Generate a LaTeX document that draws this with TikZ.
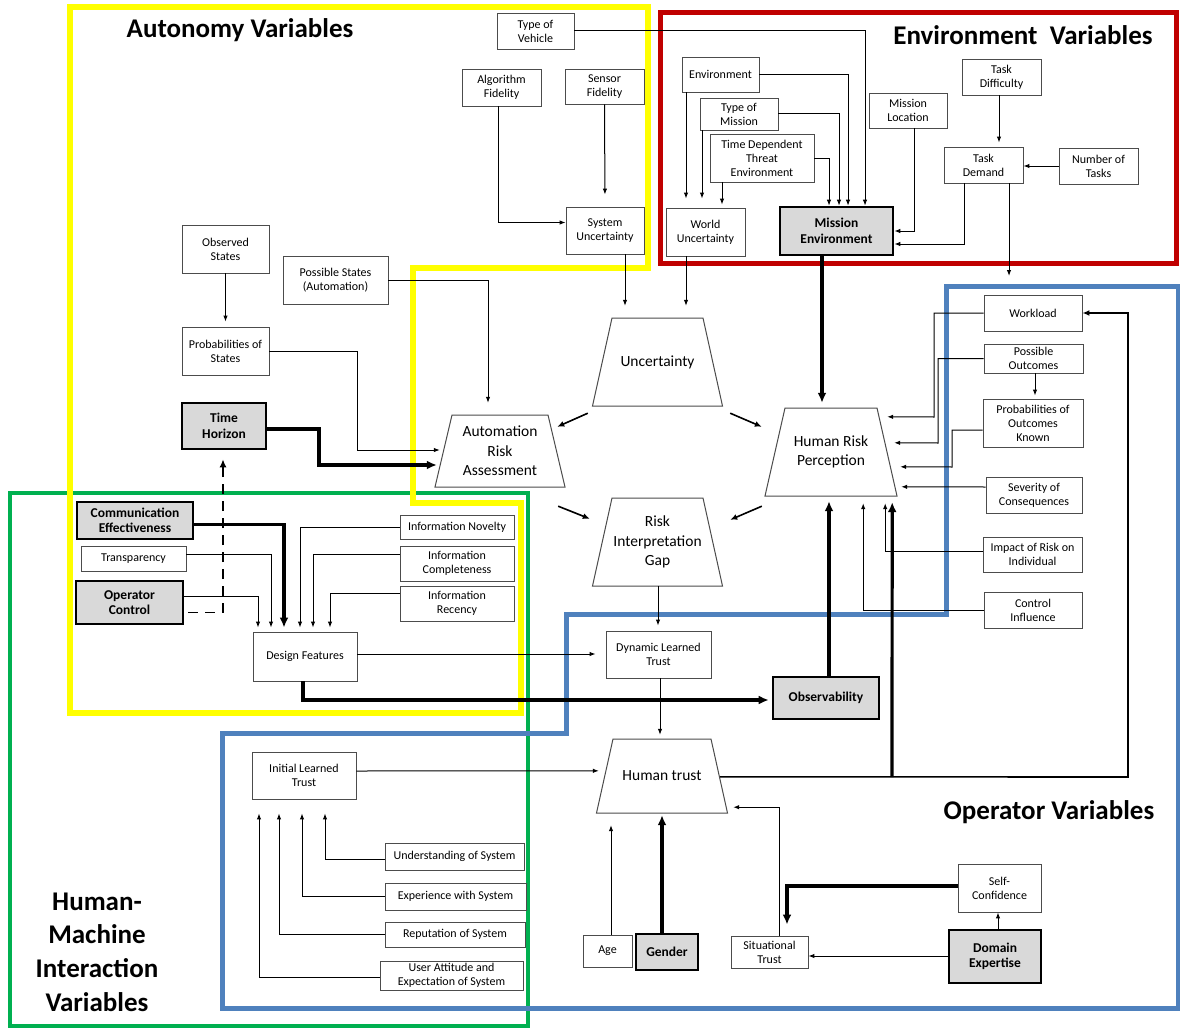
\documentclass[tikz,border=0pt]{standalone}
\usepackage{fontspec}
\setmainfont{Carlito}
\usetikzlibrary{arrows.meta,calc}
\definecolor{boxgray}{RGB}{217,217,217}
\definecolor{fyellow}{RGB}{255,255,0}
\definecolor{fred}{RGB}{192,0,0}
\definecolor{fblue}{RGB}{79,129,189}
\definecolor{fgreen}{RGB}{0,176,80}
\pgfdeclarelayer{bg}
\pgfsetlayers{bg,main}
\tikzset{
 box/.style={draw=black!70, line width=0.9pt, fill=white, align=center, inner sep=1pt, font=\fontsize{12}{14}\selectfont},
 gbox/.style={box, draw=black, fill=boxgray, line width=2.6pt, font=\bfseries\fontsize{13.5}{15.5}\selectfont},
 arr/.style={line width=1pt, -{Latex[length=6pt,width=4.5pt]}},
 marr/.style={line width=1.6pt, -{Latex[length=7pt,width=6pt]}},
 tarr/.style={line width=3.2pt, -{Latex[length=10pt,width=9pt]}},
 trap/.style={draw=black!70, line width=1pt, fill=white},
 traptext/.style={inner sep=0pt, align=center, font=\fontsize{15.5}{19.5}\selectfont},
 title/.style={font=\bfseries\fontsize{27}{33.7}\selectfont, align=center},
 frame/.style={line width=5pt, line join=miter},
}
\newcommand\bx[7][]{\node[box,#1,minimum width={(#5-#3)*1pt},minimum height={(#6-#4)*1pt}] (#2) at ({(#3+#5)/2},{(#4+#6)/2}) {#7};}
\newcommand\trapz[7]{%
 \draw[trap] ({#2-#4/2},{#3-#5/2}) -- ({#2+#4/2},{#3-#5/2}) -- ({#2+#4/2+#6},{#3+#5/2}) -- ({#2-#4/2-#6},{#3+#5/2}) -- cycle;
 \node[traptext, minimum width={#4*1pt}, minimum height={#5*1pt}] (#1) at (#2,#3) {#7};}
\begin{document}
\begin{tikzpicture}[x=1pt,y=-1pt]
\useasboundingbox (0,0) rectangle (1180,1030);

% ---------- boxes ----------
\bx{tov}{497}{13}{574}{49}{Type of\\Vehicle}
\bx{algf}{462}{69}{541}{106}{Algorithm\\Fidelity}
\bx{senf}{565}{69}{644}{104}{Sensor\\Fidelity}
\bx{sysu}{566}{207}{644}{254}{System\\Uncertainty}
\bx{env}{682}{57}{759}{92}{Environment}
\bx{tom}{700}{98}{778}{130}{Type of\\Mission}
\bx{tdte}{710}{134}{814}{182}{Time Dependent\\Threat\\Environment}
\bx{wu}{666}{208}{745}{256}{World\\Uncertainty}
\bx[gbox]{me}{780}{207}{893}{255}{Mission\\Environment}
\bx{ml}{869}{93}{947}{128}{Mission\\Location}
\bx{tdiff}{962}{59}{1041}{95}{Task\\Difficulty}
\bx{tdem}{944}{147}{1023}{183}{Task\\Demand}
\bx{ntask}{1059}{148}{1138}{184}{Number of\\Tasks}
\bx{obs}{182}{225}{269}{273}{Observed\\States}
\bx{pst}{283}{256}{388}{304}{Possible States\\(Automation)}
\bx{pos}{182}{327}{269}{375}{Probabilities of\\States}
\bx[gbox]{th}{182}{403}{266}{449}{Time\\Horizon}
\bx[gbox]{ce}{77}{502}{193}{539}{Communication\\Effectiveness}
\bx{tr}{81}{546}{186}{571}{Transparency}
\bx[gbox]{oc}{76}{581}{183}{624}{Operator\\Control}
\bx{df}{253}{632}{357}{681}{Design Features}
\bx{inov}{400}{515}{514}{539}{Information Novelty}
\bx{icomp}{400}{546}{514}{581}{Information\\Completeness}
\bx{irec}{400}{586}{514}{621}{Information\\Recency}
\bx{dlt}{606}{631}{711}{678}{Dynamic Learned\\Trust}
\bx[gbox]{observ}{773}{677}{879}{719}{Observability}
\bx{wl}{984}{295}{1082}{331}{Workload}
\bx{po}{984}{344}{1083}{373}{Possible\\Outcomes}
\bx{pook}{983}{399}{1083}{447}{Probabilities of\\Outcomes\\Known}
\bx{sev}{986}{477}{1082}{513}{Severity of\\Consequences}
\bx{imp}{983}{537}{1082}{572}{Impact of Risk on\\Individual}
\bx{ci}{984}{592}{1082}{628}{Control\\Influence}
\bx{ilt}{252}{752}{356}{799}{Initial Learned\\Trust}
\bx{uos}{385}{843}{524}{870}{Understanding of System}
\bx{ews}{385}{883}{526}{910}{Experience with System}
\bx{ros}{385}{922}{525}{947}{Reputation of System}
\bx{ua}{380}{961}{523}{990}{User Attitude and\\Expectation of System}
\bx{age}{583}{935}{632}{967}{Age}
\bx[gbox]{gen}{636}{934}{698}{970}{Gender}
\bx{st}{731}{936}{808}{968}{Situational\\Trust}
\bx{sc}{958}{864}{1041}{912}{Self-\\Confidence}
\bx[gbox]{de}{949}{930}{1041}{983}{Domain\\Expertise}

% ---------- trapezoids ----------
\trapz{unc}{657.5}{362}{91}{88}{19.5}{Uncertainty}
\trapz{ara}{500}{451}{96}{72}{17}{Automation\\Risk\\Assessment}
\trapz{rig}{657.5}{542}{91}{88}{19.5}{Risk\\Interpretation\\Gap}
\trapz{hrp}{831}{452}{92}{88}{20}{Human Risk\\Perception}
\trapz{ht}{662}{776}{98}{74}{16.5}{Human trust}

% ---------- titles ----------
\node[title] (tAut) at (240,30) {Autonomy Variables};
\node[title] (tEnv) at (1023,35) {Environment\ \ Variables};
\node[title] (tOp) at (1049,812) {Operator Variables};
\node[title] (tHmi) at (97,952) {Human-\\Machine\\Interaction\\Variables};

% ---------- connectors ----------
% environment
\draw[arr] (tov.east) -| (me.north -| 865,0);
\draw[arr] (env.east) -| (me.north -| 848,0);
\draw[arr] (tom.east) -| (me.north -| 839,0);
\draw[arr] (tdte.east) -| (me.north -| 829,0);
\draw[arr,shorten >=9pt] (env.south -| 686,0) -- (wu.north -| 686,0);
\draw[arr,shorten >=9pt] (tom.south -| 702,0) -- (wu.north -| 702,0);
\draw[arr,shorten >=3pt] (tdte.south -| 722,0) -- (wu.north -| 722,0);
\draw[arr,shorten >=12pt] (senf.south) -- (sysu.north);
\draw[arr] (algf.south -| 498,0) |- ($(sysu.west)+(0,-8)$);
\draw[arr,shorten >=12pt] (sysu.south -| 625,0) -- (unc.north -| 625,0);
\draw[arr,shorten >=12pt] (wu.south -| 686,0) -- (unc.north -| 686,0);
\draw[arr] (ml.south -| 914,0) |- (me.east);
\draw[arr] (tdem.south -| 964,0) |- ($(me.east)+(0,13)$);
\draw[arr,shorten >=4pt] (tdiff.south -| 999,0) -- (tdem.north -| 999,0);
\draw[arr] (ntask.west) -- (tdem.east |- ntask.west);
\coordinate (tdend) at (1009,276);
\draw[arr] (tdem.south -| 1009,0) -- (tdend);
\draw[tarr,shorten >=5pt] (me.south -| 822,0) -- (hrp.north -| 822,0);

% risk perception inputs
\draw[arr] (wl.west) -| (934,417) -- ($(hrp.north east)+(10,9)$);
\draw[arr] (po.west) -| (938,443) -- ($(hrp.north east)+(17,35)$);
\draw[arr] ($(pook.west)+(0,7)$) -| (952,467) -- ($(hrp.north east)+(23,59)$);
\draw[arr] ($(sev.west)+(0,-8)$) -- ($(hrp.north east)+(24,79)$);
\draw[arr] ($(imp.west)+(0,-3)$) -| ($(hrp.south east)+(8,7)$);
\draw[arr] (ci.west) -| ($(hrp.south east)+(-14,7)$);
\draw[arr,shorten >=3pt] (po.south -| 1035,0) -- (pook.north -| 1035,0);
\draw[tarr,shorten >=5pt] (observ.north -| 829,0) -- (hrp.south -| 829,0);

% human trust outputs
\coordinate (htj) at (892,777);
\draw[marr] ($(ht.north east)+(9,38)$) -- (1128,777) |- (wl.east);
\draw[tarr] (htj) -- ($(hrp.south east)+(15,6)$);

% central diagonal arrows
\draw[marr] ($(unc.south west)+(-24,7)$) -- ($(ara.north east)+(9,12)$);
\draw[marr] ($(unc.south east)+(27,7)$) -- ($(hrp.north west)+(-23,19)$);
\draw[marr] ($(ara.south east)+(10,19)$) -- ($(rig.north west)+(-22,21)$);
\draw[marr] ($(hrp.south west)+(-23,10)$) -- ($(rig.north east)+(27,22)$);

% automation
\draw[arr,shorten >=12pt] (pst.east) -| (ara.north -| 488,0);
\draw[arr,shorten >=5pt] (obs.south) -- (pos.north);
\draw[arr] (pos.east) -| (357,450) -- ($(ara.west)+(-12,-1)$);
\draw[tarr] ($(th.east)+(0,3)$) -| (319,465) -- ($(ara.west)+(-15,14)$);
\draw[line width=1.8pt, dash pattern=on 10pt off 7pt, -{Latex[length=8pt,width=7pt]}, shorten >=9pt] ($(oc.east)+(4,10)$) -| (th.south -| 223,0);

% design features
\draw[tarr,shorten >=4pt] ($(ce.east)+(0,4)$) -| (df.north -| 284,0);
\draw[arr,shorten >=4pt] ($(tr.east)+(0,-4)$) -| (df.north -| 271,0);
\draw[arr,shorten >=4pt] ($(oc.east)+(0,-6)$) -| (df.north -| 258,0);
\draw[arr,shorten >=4pt] (inov.west) -| (df.north -| 300,0);
\draw[arr,shorten >=4pt] ($(icomp.west)+(0,-9)$) -| (df.north -| 313,0);
\draw[arr,shorten >=4pt] ($(irec.west)+(0,-10)$) -| (df.north -| 330,0);
\draw[arr,shorten >=10pt] (df.east |- 0,654) -- (dlt.west |- 0,654);
\draw[tarr,shorten >=3pt] (df.south -| 303,0) |- ($(observ.west)+(0,2)$);
\draw[arr,shorten >=5pt] (rig.south -| 658,0) -- (dlt.north -| 658,0);
\draw[arr,shorten >=4pt] (dlt.south -| 660,0) -- (ht.north -| 660,0);

% human trust inputs
\draw[arr] (ilt.east |- 0,771) -- ($(ht.north west)+(-14,32)$);
\draw[arr,shorten >=14pt] ($(uos.west)+(0,3)$) -| (ilt.south -| 325,0);
\draw[arr,shorten >=14pt] (ews.west) -| (ilt.south -| 302,0);
\draw[arr,shorten >=14pt] (ros.west) -| (ilt.south -| 279,0);
\draw[arr,shorten >=14pt] ($(ua.west)+(0,1.5)$) -| (ilt.south -| 259,0);
\draw[arr,shorten >=12pt] (age.north -| 611,0) -- (ht.south -| 611,0);
\draw[tarr,shorten >=2pt] (gen.north -| 662,0) -- (ht.south -| 662,0);
\draw[arr] (st.north -| 779,0) |- ($(ht.south east)+(22,-6)$);
\draw[tarr,shorten >=11pt] ($(sc.west)+(0,-2)$) -| (st.north -| 787,0);
\draw[arr] (de.north -| 998,0) -- (sc.south -| 998,0);
\draw[arr] (de.west |- 0,956) -- (st.east |- 0,956);

% ---------- frames ----------
\begin{pgfonlayer}{bg}
\fill[white] (0,0) rectangle (1180,1030);
\draw[frame, fgreen, line width=4pt] (10,493) rectangle (528,1026);
\draw[frame, fblue] (946,286) -- (1178,286) -- (1178,1008) -- (222,1008) -- (222,733) -- (566,733) -- (566,614) -- (946,614) -- cycle;
\draw[frame, fred] (660,13) rectangle (1176,263);
\draw[frame, fyellow, line width=5.5pt] (70,7) -- (648,7) -- (648,268) -- (413,268) -- (413,503) -- (521,503) -- (521,713) -- (70,713) -- cycle;
\end{pgfonlayer}
\end{tikzpicture}
\end{document}
